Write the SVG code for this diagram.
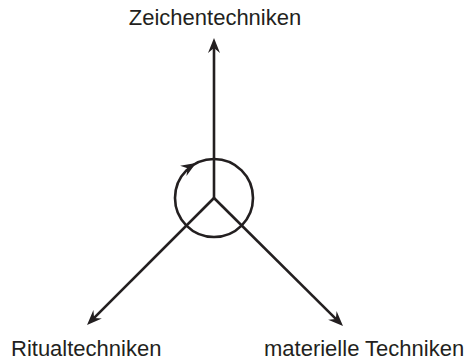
<svg xmlns="http://www.w3.org/2000/svg" width="472" height="360" viewBox="0 0 472 360">
<style>
.ln{fill:none;stroke:#231f20;stroke-width:2.6}
.lbl{font-family:"Liberation Sans",Arial,sans-serif;font-size:22px;fill:#231f20}
</style>
<defs>
<marker id="ah" markerUnits="userSpaceOnUse" viewBox="-16 -8 17 16" markerWidth="17" markerHeight="16" refX="-9" refY="0" orient="auto">
<path d="M0,0 L-15,-6 L-10,0 L-15,6 Z" fill="#231f20"/>
</marker>
</defs>
<rect width="472" height="360" fill="#fff"/>
<g id="connectors">
<path class="ln" d="M214,198 L214,47" marker-end="url(#ah)"/>
<path class="ln" d="M214,198 L93.4,318.6" marker-end="url(#ah)"/>
<path class="ln" d="M214,198 L336.6,319.6" marker-end="url(#ah)"/>
<circle class="ln" cx="214" cy="198" r="39"/>
<path d="M0,0 L-15,-6 L-10,0 L-15,6 Z" fill="#231f20" transform="translate(196,163) rotate(-32)"/>
</g>
<g id="zeichentechniken"><text class="lbl" x="215" y="25" text-anchor="middle">Zeichentechniken</text></g>
<g id="ritualtechniken"><text class="lbl" x="11" y="356">Ritualtechniken</text></g>
<g id="materielle"><text class="lbl" x="264" y="356">materielle Techniken</text></g>
</svg>
